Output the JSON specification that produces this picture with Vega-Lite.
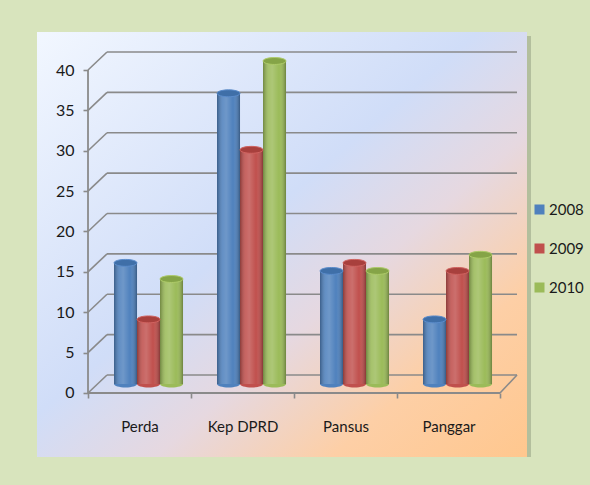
{
  "$schema": "https://vega.github.io/schema/vega-lite/v6.json",
  "width": 490,
  "height": 425,
  "autosize": {"type": "none"},
  "padding": {"left": 37, "top": 32, "right": 63, "bottom": 28},
  "background": "#d8e4bd",
  "config": {"view": {"stroke": null}, "font": "Lato"},
  "datasets": {
    "bars": [
      {"cat": "Perda", "year": "2008", "value": 15},
      {"cat": "Perda", "year": "2009", "value": 8},
      {"cat": "Perda", "year": "2010", "value": 13},
      {"cat": "Kep DPRD", "year": "2008", "value": 36},
      {"cat": "Kep DPRD", "year": "2009", "value": 29},
      {"cat": "Kep DPRD", "year": "2010", "value": 40},
      {"cat": "Pansus", "year": "2008", "value": 14},
      {"cat": "Pansus", "year": "2009", "value": 15},
      {"cat": "Pansus", "year": "2010", "value": 14},
      {"cat": "Panggar", "year": "2008", "value": 8},
      {"cat": "Panggar", "year": "2009", "value": 14},
      {"cat": "Panggar", "year": "2010", "value": 16}
    ],
    "ticks": [{"t": 0}, {"t": 5}, {"t": 10}, {"t": 15}, {"t": 20}, {"t": 25}, {"t": 30}, {"t": 35}, {"t": 40}],
    "one": [{"k": 1}]
  },
  "data": {"name": "bars"},
  "layer": [
    {
      "data": {"name": "one"},
      "mark": {"type": "rect", "color": "#6f7b60", "opacity": 0.35, "xOffset": 4, "x2Offset": 4, "yOffset": 4, "y2Offset": 4},
      "encoding": {}
    },
    {
      "data": {"name": "one"},
      "mark": {
        "type": "rect",
        "color": {
          "gradient": "linear", "x1": 0, "y1": 0, "x2": 1, "y2": 1,
          "stops": [
            {"offset": 0, "color": "#f2f7ff"},
            {"offset": 0.45, "color": "#d0ddf8"},
            {"offset": 0.62, "color": "#e6d8e0"},
            {"offset": 0.8, "color": "#fdcfa6"},
            {"offset": 1, "color": "#ffc78e"}
          ]
        }
      },
      "encoding": {}
    },
    {
      "data": {"name": "ticks"},
      "mark": {"type": "rule", "color": "#8a8a8a", "strokeWidth": 1.6, "xOffset": 19, "x2Offset": 17, "yOffset": -18},
      "encoding": {
        "x": {"datum": "Perda", "bandPosition": 0},
        "x2": {"datum": "Panggar", "bandPosition": 1},
        "y": {"field": "t", "type": "quantitative"}
      }
    },
    {
      "data": {"name": "ticks"},
      "mark": {"type": "rule", "color": "#8a8a8a", "strokeWidth": 1.6, "x2Offset": 19, "y2Offset": -18},
      "encoding": {
        "x": {"datum": "Perda", "bandPosition": 0},
        "x2": {"datum": "Perda", "bandPosition": 0},
        "y": {"field": "t", "type": "quantitative"},
        "y2": {"field": "t"}
      }
    },
    {
      "data": {"name": "one"},
      "mark": {"type": "rule", "color": "#8a8a8a", "strokeWidth": 1.6, "x2Offset": 17, "y2Offset": -18},
      "encoding": {
        "x": {"datum": "Panggar", "bandPosition": 1},
        "x2": {"datum": "Panggar", "bandPosition": 1},
        "y": {"datum": 0},
        "y2": {"datum": 0}
      }
    },
    {
      "data": {"name": "one"},
      "mark": {"type": "rule", "color": "#8a8a8a", "strokeWidth": 1.8},
      "encoding": {
        "x": {"datum": "Perda", "bandPosition": 0},
        "x2": {"datum": "Panggar", "bandPosition": 1},
        "y": {"datum": 0}
      }
    },
    {
      "data": {"name": "one"},
      "mark": {"type": "rule", "color": "#8a8a8a", "strokeWidth": 1.8},
      "encoding": {
        "x": {"datum": "Perda", "bandPosition": 0},
        "y": {"datum": 0},
        "y2": {"datum": 40}
      }
    },
    {
      "mark": {"type": "point", "filled": true, "opacity": 1, "shape": "M-1,0A1,0.3,0,1,0,1,0A1,0.3,0,1,0,-1,0Z", "size": 529, "yOffset": -9},
      "encoding": {
        "x": {"field": "cat", "type": "nominal"},
        "xOffset": {"field": "year", "type": "nominal"},
        "y": {"datum": 0},
        "color": {"field": "year", "type": "nominal"}
      }
    },
    {
      "mark": {"type": "bar", "yOffset": -9, "y2Offset": -9},
      "encoding": {
        "x": {
          "field": "cat", "type": "nominal", "sort": ["Perda", "Kep DPRD", "Pansus", "Panggar"],
          "scale": {"domain": ["Perda", "Kep DPRD", "Pansus", "Panggar"], "paddingInner": 0, "paddingOuter": 0.3786, "align": 0.654},
          "axis": {
            "title": null, "orient": "bottom", "offset": -64, "domain": false, "tickBand": "extent",
            "tickColor": "#8a8a8a", "tickWidth": 1.6, "tickSize": 5, "labelPadding": 28,
            "labelFontSize": 15, "labelColor": "#1a1a1a", "labelAngle": 0, "labelAlign": "center", "zindex": 1
          }
        },
        "xOffset": {"field": "year", "type": "nominal", "scale": {"paddingInner": 0, "paddingOuter": 0.739, "align": 0.765}},
        "y": {
          "field": "value", "type": "quantitative",
          "scale": {"domain": [-7.926, 44.706], "nice": false, "zero": false},
          "axis": {
            "title": null, "offset": -51, "domain": false, "grid": false,
            "values": [0, 5, 10, 15, 20, 25, 30, 35, 40],
            "tickColor": "#8a8a8a", "tickWidth": 1.6, "tickSize": 5, "labelPadding": 9,
            "labelFontSize": 16, "labelColor": "#1a1a1a", "zindex": 1
          }
        },
        "y2": {"datum": 0},
        "color": {
          "field": "year", "type": "nominal",
          "scale": {"domain": ["2008", "2009", "2010"], "range": ["#4f81bd", "#c0504d", "#9bbb59"]},
          "legend": {
            "title": null, "orient": "none", "legendX": 495, "legendY": 170,
            "symbolType": "square", "symbolSize": 100, "symbolStrokeWidth": 0,
            "labelFontSize": 15, "labelColor": "#1a1a1a", "rowPadding": 23, "labelOffset": 2
          }
        }
      }
    },
    {
      "mark": {
        "type": "bar", "yOffset": -9, "y2Offset": -9,
        "color": {
          "gradient": "linear", "x1": 0, "y1": 0, "x2": 1, "y2": 0,
          "stops": [
            {"offset": 0, "color": "rgba(0,0,0,0.28)"},
            {"offset": 0.25, "color": "rgba(255,255,255,0.12)"},
            {"offset": 0.4, "color": "rgba(255,255,255,0.18)"},
            {"offset": 0.7, "color": "rgba(255,255,255,0)"},
            {"offset": 1, "color": "rgba(0,0,0,0.3)"}
          ]
        }
      },
      "encoding": {
        "x": {"field": "cat", "type": "nominal"},
        "xOffset": {"field": "year", "type": "nominal"},
        "y": {"field": "value", "type": "quantitative"},
        "y2": {"datum": 0}
      }
    },
    {
      "mark": {"type": "point", "filled": true, "opacity": 1, "strokeWidth": 1, "shape": "M-1,0A1,0.3,0,1,0,1,0A1,0.3,0,1,0,-1,0Z", "size": 529, "yOffset": -9},
      "encoding": {
        "x": {"field": "cat", "type": "nominal"},
        "xOffset": {"field": "year", "type": "nominal"},
        "y": {"field": "value", "type": "quantitative"},
        "fill": {"field": "year", "type": "nominal", "scale": {"domain": ["2008", "2009", "2010"], "range": ["#3f6fa8", "#a8403d", "#85a447"]}, "legend": null},
        "stroke": {"field": "year", "type": "nominal", "scale": {"domain": ["2008", "2009", "2010"], "range": ["#5b8ccb", "#d06360", "#aecb6a"]}, "legend": null}
      }
    }
  ]
}
